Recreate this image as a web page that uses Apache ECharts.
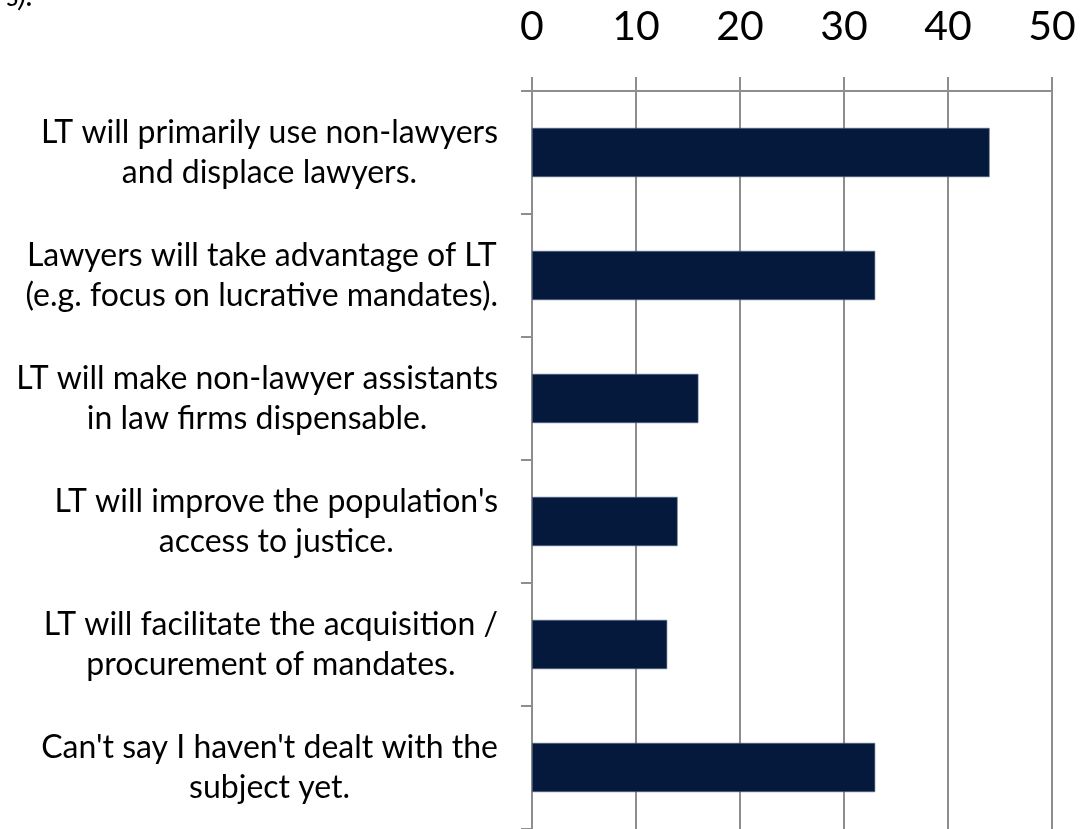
<!DOCTYPE html>
<html>
<head>
<meta charset="utf-8">
<script src="https://cdn.jsdelivr.net/npm/echarts@6/dist/echarts.min.js"></script>
<style>
html,body{margin:0;padding:0;background:#fff;}
#main{width:1080px;height:829px;}
</style>
</head>
<body>
<div id="main"></div>
<script>
// answers, top to bottom
var categories = [
	"LT will primarily use non-lawyers\nand displace lawyers.",
	"Lawyers will take advantage of LT\n(e.g. focus on lucrative mandates).",
	"LT will make non-lawyer assistants\nin law firms dispensable.",
	"LT will improve the population's\naccess to justice.",
	"LT will facilitate the acquisition /\nprocurement of mandates.",
	"Can't say I haven't dealt with the\nsubject yet."
];
var values = [44, 33, 16, 14, 13, 33];
var ticks = [0, 10, 20, 30, 40, 50];

var myChart = echarts.init(document.getElementById('main'));
var gray = '#8e8e8e';
var option = {
	animation: false,
	textStyle: {fontFamily: 'Lato'},
	title: {
		text: 's).',
		left: 2,
		top: -24,
		textStyle: {fontSize: 30, fontWeight: 'normal', fontStyle: 'italic', color: '#000', fontFamily: 'Lato'}
	},
	grid: {left: 532, right: 28, top: 91, bottom: -3, containLabel: false},
	xAxis: {
		type: 'value',
		position: 'top',
		min: ticks[0],
		max: ticks[ticks.length - 1],
		interval: 10,
		axisLine: {show: true, lineStyle: {color: gray, width: 2}},
		axisTick: {show: true, length: 14, lineStyle: {color: gray, width: 2}},
		splitLine: {show: true, lineStyle: {color: gray, width: 2}},
		axisLabel: {
			margin: 44,
			fontSize: 41,
			color: '#000',
			fontFamily: 'Lato'
		}
	},
	yAxis: {
		type: 'category',
		inverse: true,
		data: categories,
		axisLine: {show: true, lineStyle: {color: gray, width: 2}},
		axisTick: {show: true, length: 11, lineStyle: {color: gray, width: 2}},
		axisLabel: {
			margin: 34,
			color: '#000',
			align: 'right',
			formatter: function (v) {
				return v.split('\n').map(function (s) { return '{c|' + s + '}'; }).join('\n');
			},
			rich: {
				c: {align: 'center', fontSize: 32, lineHeight: 40, color: '#000', fontFamily: 'Lato'}
			}
		}
	},
	series: [{
		type: 'bar',
		data: values,
		barCategoryGap: '60%',
		itemStyle: {color: '#04193c', borderColor: '#5a6a88', borderWidth: 0.6}
	}]
};
myChart.setOption(option);
</script>
</body>
</html>
